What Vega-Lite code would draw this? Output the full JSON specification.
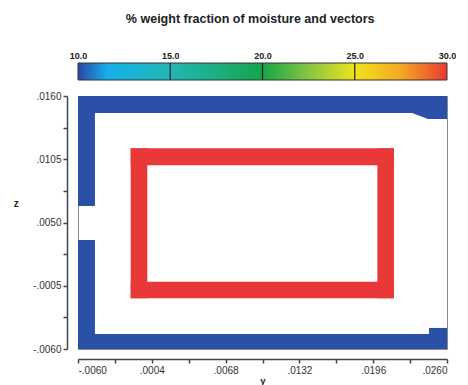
{
  "$schema": "https://vega.github.io/schema/vega-lite/v6.json",
  "padding": {"left": 12, "top": 12, "right": 0, "bottom": 0},
  "background": "white",
  "title": {
    "text": "% weight fraction of moisture and vectors",
    "font": "Liberation Sans",
    "fontSize": 12.5,
    "fontWeight": "bold",
    "color": "#222",
    "anchor": "middle",
    "dx": 16,
    "offset": 26
  },
  "datasets": {
    "blocks": [
      {"part": "left upper wall", "x": -0.006, "x2": -0.00453, "y": 0.00643, "y2": 0.0146, "f": 10},
      {"part": "left lower wall", "x": -0.006, "x2": -0.00453, "y": -0.006, "y2": 0.00348, "f": 10},
      {"part": "bottom wall", "x": -0.006, "x2": 0.026, "y": -0.006, "y2": -0.0047, "f": 10},
      {"part": "bottom right step", "x": 0.02444, "x2": 0.026, "y": -0.0048, "y2": -0.00417, "f": 10},
      {"part": "red top", "x": -0.00143, "x2": 0.0214, "y": 0.00997, "y2": 0.01145, "f": 30},
      {"part": "red bottom", "x": -0.00143, "x2": 0.0214, "y": -0.00159, "y2": -0.00015, "f": 30},
      {"part": "red left", "x": -0.00143, "x2": 0.00001, "y": -0.00159, "y2": 0.01145, "f": 30},
      {"part": "red right", "x": 0.01996, "x2": 0.0214, "y": -0.00159, "y2": 0.01145, "f": 30}
    ],
    "topband": [
      {"x": -0.006, "y": 0.01452, "y2": 0.016, "f": 10},
      {"x": 0.02297, "y": 0.01452, "y2": 0.016, "f": 10},
      {"x": 0.02435, "y": 0.0140, "y2": 0.016, "f": 10},
      {"x": 0.026, "y": 0.0140, "y2": 0.016, "f": 10}
    ],
    "bar": [{"lo": 10, "hi": 30}],
    "dividers": [{"v": 15}, {"v": 20}, {"v": 25}]
  },
  "vconcat": [
    {
      "width": 369,
      "height": 17,
      "view": {"stroke": null},
      "layer": [
        {
          "data": {"name": "bar"},
          "mark": {
            "type": "rect",
            "stroke": "#333",
            "strokeWidth": 1,
            "fill": {
              "gradient": "linear",
              "x1": 0, "y1": 0, "x2": 1, "y2": 0,
              "stops": [
                {"offset": 0, "color": "#2a46a2"},
                {"offset": 0.08, "color": "#16b0ea"},
                {"offset": 0.25, "color": "#22b6b6"},
                {"offset": 0.5, "color": "#14a64a"},
                {"offset": 0.63, "color": "#8cc63f"},
                {"offset": 0.75, "color": "#eee41c"},
                {"offset": 0.88, "color": "#f6a525"},
                {"offset": 1, "color": "#e83a30"}
              ]
            }
          },
          "encoding": {
            "x": {
              "field": "lo",
              "type": "quantitative",
              "scale": {"domain": [10, 30], "nice": false, "zero": false},
              "axis": {
                "orient": "top",
                "values": [10, 15, 20, 25, 30],
                "format": ".1f",
                "labelFlush": false,
                "ticks": false,
                "domain": false,
                "grid": false,
                "labelFont": "Liberation Sans",
                "labelFontSize": 9,
                "labelFontWeight": "bold",
                "labelColor": "#222",
                "labelPadding": 3,
                "title": null
              }
            },
            "x2": {"field": "hi"}
          }
        },
        {
          "data": {"name": "dividers"},
          "mark": {"type": "rule", "color": "#222", "strokeWidth": 1.2},
          "encoding": {"x": {"field": "v", "type": "quantitative"}}
        }
      ]
    },
    {
      "width": 369,
      "height": 253,
      "view": {"stroke": "#8a8a8a", "strokeWidth": 1},
      "encoding": {
        "x": {
          "type": "quantitative",
          "scale": {"domain": [-0.006, 0.026], "nice": false, "zero": false},
          "axis": {
            "title": "y",
            "offset": 10,
            "values": [-0.006, -0.0028, 0.0004, 0.0036, 0.0068, 0.01, 0.0132, 0.0164, 0.0196, 0.0228, 0.026],
            "labelExpr": "round(datum.index*10) % 2 ? '' : (datum.value < 0 ? '-' : '') + replace(format(abs(datum.value), '.4f'), '0.', '.')",
            "labelFlush": true,
            "labelDx": 4,
            "grid": false,
            "domainColor": "#444",
            "domainWidth": 1.5,
            "tickColor": "#444",
            "tickWidth": 1.5,
            "tickSize": 4,
            "labelPadding": 2,
            "labelFont": "Liberation Sans",
            "labelFontSize": 10,
            "labelColor": "#333",
            "titleFont": "Liberation Sans",
            "titleFontSize": 9.5,
            "titleFontWeight": "bold",
            "titleColor": "#222",
            "titlePadding": 0
          }
        },
        "y": {
          "type": "quantitative",
          "scale": {"domain": [-0.006, 0.016], "nice": false, "zero": false},
          "axis": {
            "title": "z",
            "offset": 11,
            "values": [0.016, 0.01325, 0.0105, 0.00775, 0.005, 0.00225, -0.0005, -0.00325, -0.006],
            "labelExpr": "round(datum.index*8) % 2 ? '' : (datum.value < 0 ? '-' : '') + replace(format(abs(datum.value), '.4f'), '0.', '.')",
            "labelFlush": false,
            "grid": false,
            "domainColor": "#444",
            "domainWidth": 1.5,
            "tickColor": "#444",
            "tickWidth": 1.5,
            "tickSize": 4,
            "labelPadding": 2,
            "labelFont": "Liberation Sans",
            "labelFontSize": 10,
            "labelColor": "#333",
            "titleFont": "Liberation Sans",
            "titleFontSize": 10,
            "titleFontWeight": "bold",
            "titleColor": "#222",
            "titleAngle": 0,
            "titlePadding": 17,
            "titleY": 112
          }
        },
        "color": {
          "field": "f",
          "type": "quantitative",
          "scale": {"domain": [10, 30], "range": ["#2a50a8", "#e83838"]},
          "legend": null
        }
      },
      "layer": [
        {
          "data": {"name": "topband"},
          "mark": {"type": "area", "opacity": 1, "interpolate": "linear"},
          "encoding": {
            "x": {"field": "x"},
            "y": {"field": "y"},
            "y2": {"field": "y2"}
          }
        },
        {
          "data": {"name": "blocks"},
          "mark": {"type": "rect", "opacity": 1},
          "encoding": {
            "x": {"field": "x"},
            "x2": {"field": "x2"},
            "y": {"field": "y"},
            "y2": {"field": "y2"}
          }
        }
      ]
    }
  ],
  "spacing": 9,
  "config": {
    "font": "Liberation Sans"
  }
}
